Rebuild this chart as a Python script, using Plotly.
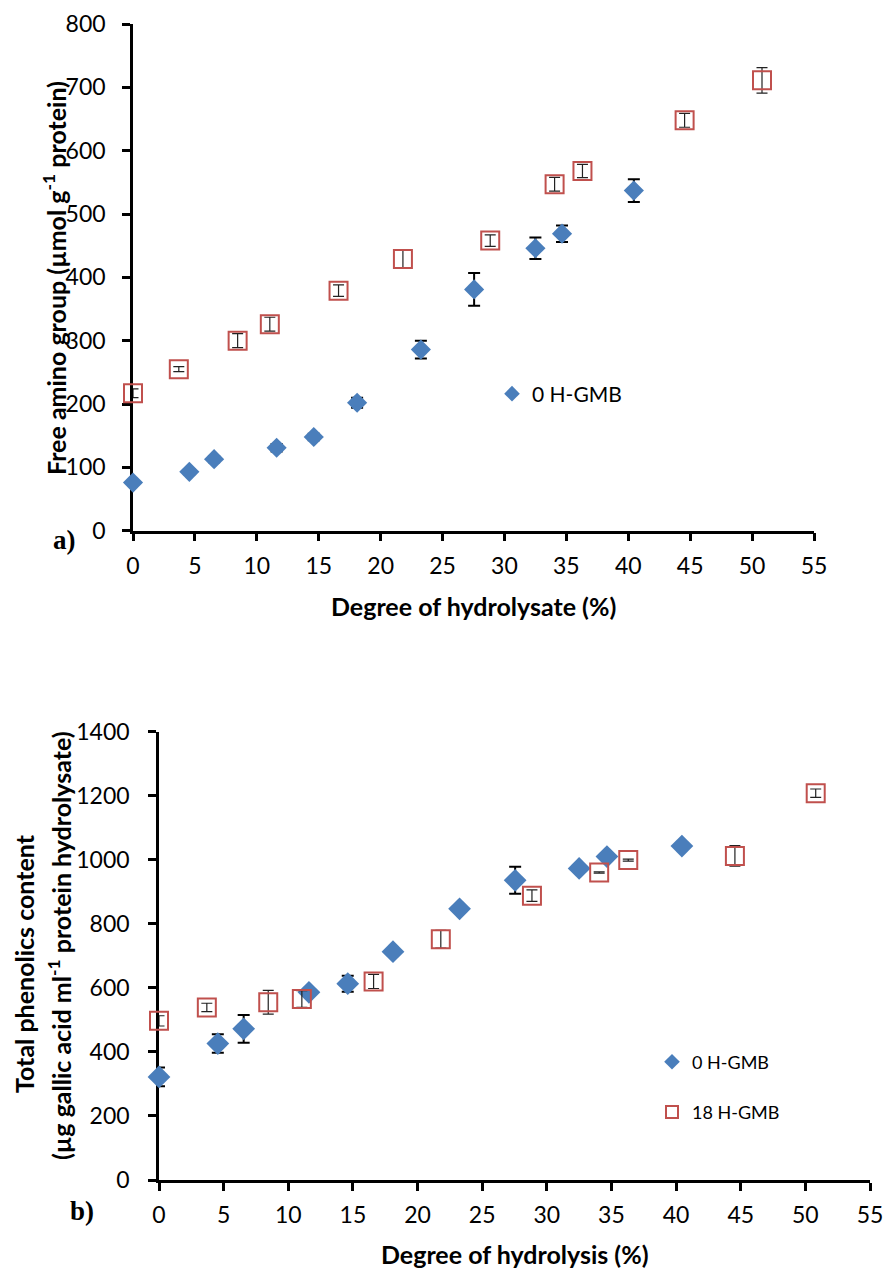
import plotly.graph_objects as go

# ---------------- data ----------------
dh_0 = [0, 4.55, 6.55, 11.6, 14.6, 18.1, 23.25, 27.55, 32.5, 34.65, 40.45]
dh_18 = [0, 3.7, 8.45, 11.05, 16.6, 21.8, 28.85, 34.05, 36.3, 44.55, 50.8]

# a) free amino group (umol/g protein)
amino_0 = [76, 93, 113, 131, 148, 202, 286, 381, 446, 469, 537]
amino_0_err = [4, 4, 5, 6, 5, 8, 14, 26, 17, 13, 18]
amino_18 = [217, 255, 300, 326, 379, 429, 458, 547, 568, 648, 711]
amino_18_err = [7, 4, 11, 11, 9, 14, 9, 11, 10.5, 11, 20]

# b) total phenolics content
phen_0 = [322, 426, 472, 586, 613, 713, 847, 936, 973, 1010, 1043]
phen_0_err = [29, 29, 43, 10, 25, 10, 10, 42, 10, 10, 10]
phen_18 = [497, 539, 555, 565, 620, 752, 888, 960, 999, 1012, 1208]
phen_18_err = [16, 13, 37, 26, 22, 28, 18, 2, 3, 32, 13]

series_names = ["0 H-GMB", "18 H-GMB"]
x_ticks = [0, 5, 10, 15, 20, 25, 30, 35, 40, 45, 50, 55]

BLUE = "#4A7EBB"
RED = "#C0504D"
FONT = "Lato"
W, H = 887, 1271

def px_x(p):
    return p / W

def px_y(p):
    return (H - p) / H

fig = go.Figure()

def add_pair(xa, ya, y0, e0, y18, e18, legend_name, show18, dsize):
    fig.add_trace(go.Scatter(
        x=dh_0, y=y0, mode="markers", name=series_names[0],
        xaxis=xa, yaxis=ya, cliponaxis=False,
        legend=legend_name, legendgroup="g0" + legend_name,
        marker=dict(symbol="diamond", size=dsize, color=BLUE,
                    line=dict(width=0)),
        error_y=dict(type="data", array=e0, color="black",
                     thickness=2, width=6),
    ))
    fig.add_trace(go.Scatter(
        x=dh_18, y=y18, mode="markers", name=series_names[1],
        xaxis=xa, yaxis=ya, cliponaxis=False, showlegend=show18,
        legend=legend_name, legendgroup="g18" + legend_name,
        marker=dict(symbol="square-open", size=18, color=RED,
                    line=dict(width=2, color=RED)),
        error_y=dict(type="data", array=e18, color="#222222",
                     thickness=1.2, width=5.5),
    ))

add_pair("x", "y", amino_0, amino_0_err, amino_18, amino_18_err,
         "legend2", False, 15.5)
add_pair("x2", "y2", phen_0, phen_0_err, phen_18, phen_18_err,
         "legend", True, 17.5)

axis_common = dict(
    showline=True, linecolor="black", linewidth=2.5,
    ticks="outside", ticklen=8, tickwidth=2.5, tickcolor="black",
    showgrid=False, zeroline=False, layer="below traces", automargin=False,
    tickfont=dict(family=FONT, size=23, color="black"),
)

fig.update_layout(
    width=W, height=H,
    margin=dict(l=0, r=0, t=0, b=0, pad=0, autoexpand=False),
    paper_bgcolor="white", plot_bgcolor="white",
    xaxis=dict(domain=[px_x(133), px_x(814)], anchor="y", range=[0, 55],
               tickvals=x_ticks, ticklabelstandoff=5, **axis_common),
    yaxis=dict(domain=[px_y(530.7), px_y(24)], anchor="x", range=[0, 800],
               dtick=100, ticklabelstandoff=12, **axis_common),
    xaxis2=dict(domain=[px_x(159), px_x(870)], anchor="y2", range=[0, 55],
                tickvals=x_ticks, ticklabelstandoff=5, **axis_common),
    yaxis2=dict(domain=[px_y(1180), px_y(731.7)], anchor="x2", range=[0, 1400],
                dtick=200, ticklabelstandoff=14, **axis_common),
    legend=dict(x=px_x(652), y=px_y(1087), xanchor="left", yanchor="middle",
                itemsizing="constant", tracegroupgap=24, bgcolor="rgba(0,0,0,0)",
                font=dict(family=FONT, size=18, color="black")),
    legend2=dict(x=px_x(492), y=px_y(394), xanchor="left", yanchor="middle",
                 itemsizing="constant", bgcolor="rgba(0,0,0,0)",
                 font=dict(family=FONT, size=21, color="black")),
)

def ann(text, x, y, size=25, angle=0, family=FONT):
    fig.add_annotation(text=text, x=px_x(x), y=px_y(y), xref="paper", yref="paper",
                       showarrow=False, textangle=angle, xanchor="center",
                       yanchor="middle",
                       font=dict(family=family, size=size, color="black"))

ann("<b>Degree of hydrolysate (%)</b>", 473.5, 606)
ann("<b>Free amino group (µmol g<sup>-1</sup> protein)</b>", 54, 278, angle=-90)
ann("<b>a)</b>", 64, 540, size=27, family="Liberation Serif")
ann("<b>Degree of hydrolysis (%)</b>", 515, 1254)
ann("<b>Total phenolics content</b>", 24, 964, angle=-90)
ann("<b>(µg gallic acid ml<sup>-1</sup> protein hydrolysate)</b>", 59, 946, angle=-90)
ann("<b>b)</b>", 82, 1211, size=27, family="Liberation Serif")

fig.write_html("out.html")
